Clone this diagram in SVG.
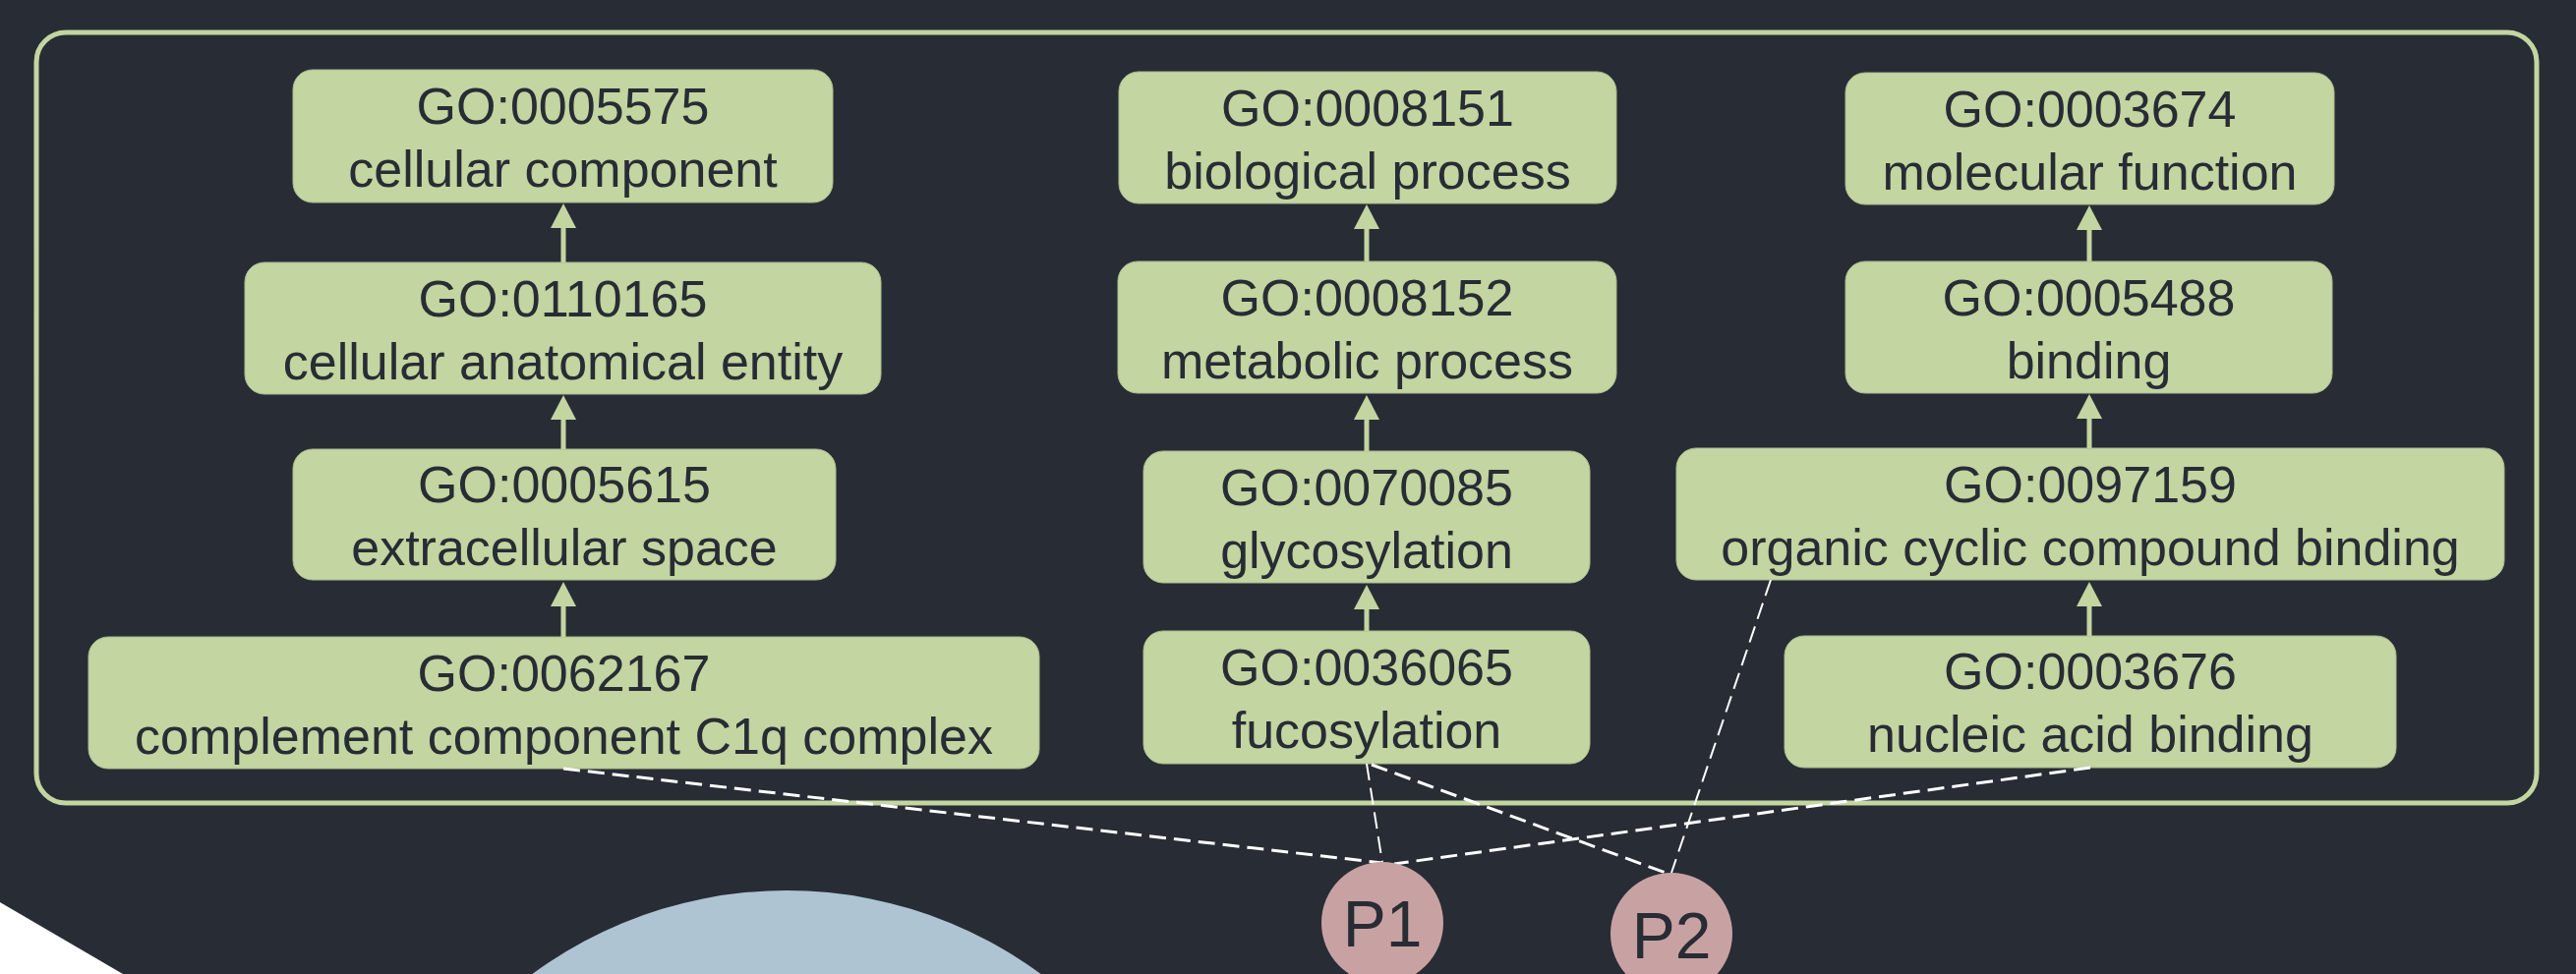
<svg xmlns="http://www.w3.org/2000/svg" width="2620" height="991" viewBox="0 0 2620 991">
<defs>
<style>
.bg{fill:#282c35}
.box{fill:#c3d5a0;stroke:#a9bb8e;stroke-width:1}
.t{font-family:"Liberation Sans",Arial,Helvetica,sans-serif;font-size:52px;fill:#282c35;text-anchor:middle}
.pt{font-family:"Liberation Sans",Arial,Helvetica,sans-serif;font-size:66px;fill:#282c35;text-anchor:middle}
.arr{stroke:#c3d5a0;stroke-width:5;fill:none}
.dash{stroke:#ffffff;fill:none;stroke-dasharray:17 8}
.thick{stroke-width:3}
.thin{stroke-width:2}
.pn{fill:#c8a2a2}
</style>
<marker id="ah" viewBox="0 0 25 26" markerWidth="25" markerHeight="26" refX="0" refY="13" orient="auto" markerUnits="userSpaceOnUse">
<path d="M0,0 L25,13 L0,26 z" fill="#c3d5a0"/>
</marker>
</defs>
<rect class="bg" x="0" y="0" width="2620" height="991"/>
<polygon points="0,918 125,991 0,991" fill="#ffffff"/>
<circle cx="800" cy="1342" r="436" fill="#aec4d2"/>
<rect id="frame" x="37" y="33" width="2543" height="784" rx="30" ry="30" fill="none" stroke="#c3d5a0" stroke-width="5"/>

<g id="n_GO0005575"><rect class="box" x="298" y="71" width="549" height="135" rx="20"/><text class="t" x="572.5" y="126">GO:0005575</text><text class="t" x="572.5" y="190">cellular component</text></g>
<g id="n_GO0110165"><rect class="box" x="249" y="267" width="647" height="134" rx="20"/><text class="t" x="572.5" y="322">GO:0110165</text><text class="t" x="572.5" y="386">cellular anatomical entity</text></g>
<g id="n_GO0005615"><rect class="box" x="298" y="457" width="552" height="133" rx="20"/><text class="t" x="574" y="511">GO:0005615</text><text class="t" x="574" y="575">extracellular space</text></g>
<g id="n_GO0062167"><rect class="box" x="90" y="648" width="967" height="134" rx="20"/><text class="t" x="573.5" y="703">GO:0062167</text><text class="t" x="573.5" y="767">complement component C1q complex</text></g>

<g id="n_GO0008151"><rect class="box" x="1138" y="73" width="506" height="134" rx="20"/><text class="t" x="1391" y="128">GO:0008151</text><text class="t" x="1391" y="192">biological process</text></g>
<g id="n_GO0008152"><rect class="box" x="1137" y="266" width="507" height="134" rx="20"/><text class="t" x="1390.5" y="321">GO:0008152</text><text class="t" x="1390.5" y="385">metabolic process</text></g>
<g id="n_GO0070085"><rect class="box" x="1163" y="459" width="454" height="134" rx="20"/><text class="t" x="1390" y="514">GO:0070085</text><text class="t" x="1390" y="578">glycosylation</text></g>
<g id="n_GO0036065"><rect class="box" x="1163" y="642" width="454" height="135" rx="20"/><text class="t" x="1390" y="697">GO:0036065</text><text class="t" x="1390" y="761">fucosylation</text></g>

<g id="n_GO0003674"><rect class="box" x="1877" y="74" width="497" height="134" rx="20"/><text class="t" x="2125.5" y="129">GO:0003674</text><text class="t" x="2125.5" y="193">molecular function</text></g>
<g id="n_GO0005488"><rect class="box" x="1877" y="266" width="495" height="134" rx="20"/><text class="t" x="2124.5" y="321">GO:0005488</text><text class="t" x="2124.5" y="385">binding</text></g>
<g id="n_GO0097159"><rect class="box" x="1705" y="456" width="842" height="134" rx="20"/><text class="t" x="2126" y="511">GO:0097159</text><text class="t" x="2126" y="575">organic cyclic compound binding</text></g>
<g id="n_GO0003676"><rect class="box" x="1815" y="647" width="622" height="134" rx="20"/><text class="t" x="2126" y="701">GO:0003676</text><text class="t" x="2126" y="765">nucleic acid binding</text></g>

<g id="connectors">
<line class="arr" x1="573" y1="267" x2="573" y2="232" marker-end="url(#ah)"/>
<line class="arr" x1="573" y1="457" x2="573" y2="427" marker-end="url(#ah)"/>
<line class="arr" x1="573" y1="648" x2="573" y2="617" marker-end="url(#ah)"/>
<line class="arr" x1="1390" y1="266" x2="1390" y2="233" marker-end="url(#ah)"/>
<line class="arr" x1="1390" y1="459" x2="1390" y2="427" marker-end="url(#ah)"/>
<line class="arr" x1="1390" y1="642" x2="1390" y2="620" marker-end="url(#ah)"/>
<line class="arr" x1="2125" y1="266" x2="2125" y2="234" marker-end="url(#ah)"/>
<line class="arr" x1="2125" y1="456" x2="2125" y2="426" marker-end="url(#ah)"/>
<line class="arr" x1="2125" y1="647" x2="2125" y2="617" marker-end="url(#ah)"/>
<line class="dash thick" x1="573" y1="782" x2="1406" y2="878"/>
<line class="dash thin" x1="1390" y1="777" x2="1406" y2="878"/>
<line class="dash thick" x1="1395" y1="778" x2="1694" y2="888"/>
<line class="dash thin" x1="1801" y1="590" x2="1700" y2="888"/>
<line class="dash thick" x1="2126" y1="781" x2="1418" y2="879"/>
</g>

<g id="n_P1"><circle class="pn" cx="1406" cy="939" r="62"/><text class="pt" x="1406" y="963">P1</text></g>
<g id="n_P2"><circle class="pn" cx="1700" cy="950" r="62"/><text class="pt" x="1700" y="975">P2</text></g>
</svg>
